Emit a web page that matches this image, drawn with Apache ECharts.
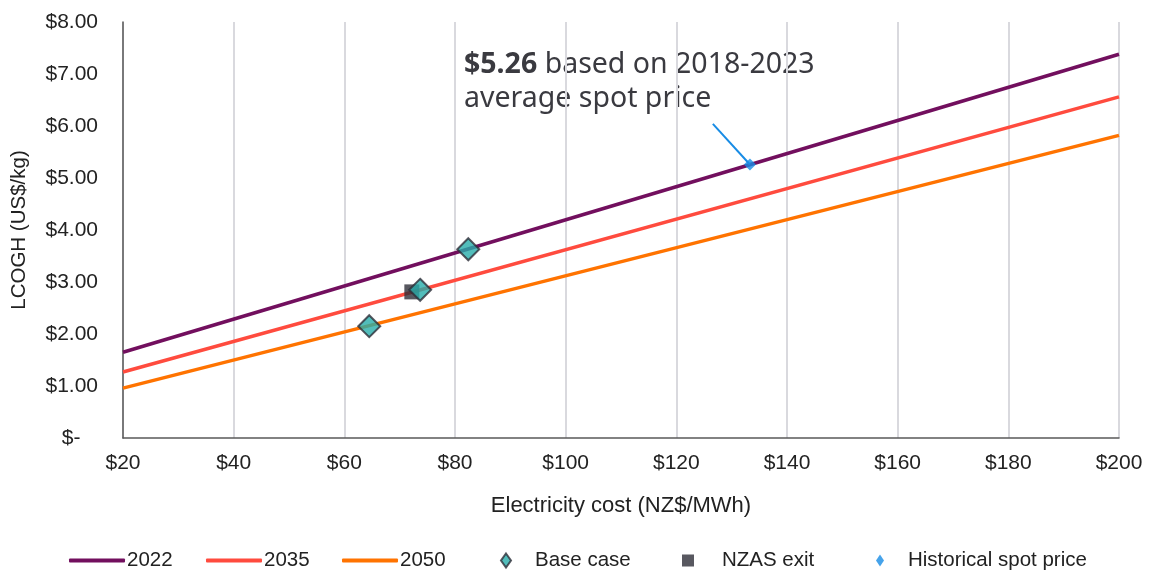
<!DOCTYPE html>
<html>
<head>
<meta charset="utf-8">
<script src="https://cdn.jsdelivr.net/npm/echarts@6/dist/echarts.min.js"></script>
<style>
  html, body { margin: 0; padding: 0; background: #fff; }
  #chart { width: 1151px; height: 573px; }
</style>
</head>
<body>
<div id="chart"></div>
<script>
// Levelised cost of green hydrogen vs. electricity cost
const xTicks = [20, 40, 60, 80, 100, 120, 140, 160, 180, 200];
const yTickLabels = ['$-', '$1.00', '$2.00', '$3.00', '$4.00', '$5.00', '$6.00', '$7.00', '$8.00'];

// Each scenario line: [electricity cost, LCOGH] at both ends of the range
const line2022 = [[20, 1.65], [200, 7.38]];
const line2035 = [[20, 1.27], [200, 6.56]];
const line2050 = [[20, 0.96], [200, 5.82]];

const baseCase = [[82.4, 3.63], [73.7, 2.85], [64.5, 2.15]];
const nzasExit = [[72.2, 2.81]];
const historicalSpot = [[133.3, 5.26]];
const calloutStart = [126.6, 6.04];

const FONT = 'Liberation Sans, Arial, sans-serif';
const chart = echarts.init(document.getElementById('chart'));

function lineSeries(name, data, color) {
  return {
    name, type: 'line', data, symbol: 'none', z: 2,
    lineStyle: { color, width: 3.5 },
    itemStyle: { color }
  };
}

const legendText = { fontFamily: FONT, fontSize: 20.5, color: '#222', padding: [0, 0, 0, -3] };
function legendItem(left, name, opts) {
  return Object.assign({ bottom: -3, left, data: [name], itemGap: 0, textStyle: legendText }, opts);
}

chart.setOption({
  animation: false,
  grid: { left: 123, right: 32, top: 22, bottom: 135, outerBoundsMode: 'none', containLabel: false },
  legend: [
    legendItem(64, '2022', { icon: 'roundRect', itemWidth: 56, itemHeight: 4 }),
    legendItem(201, '2035', { icon: 'roundRect', itemWidth: 56, itemHeight: 4 }),
    legendItem(337, '2050', { icon: 'roundRect', itemWidth: 56, itemHeight: 4 }),
    legendItem(495, 'Base case', { itemWidth: 10, itemHeight: 14,
      textStyle: Object.assign({}, legendText, { padding: [0, 0, 0, 19] }) }),
    legendItem(677, 'NZAS exit', { itemWidth: 12, itemHeight: 12,
      textStyle: Object.assign({}, legendText, { padding: [0, 0, 0, 23] }) }),
    legendItem(871, 'Historical spot price', { itemWidth: 8, itemHeight: 12,
      textStyle: Object.assign({}, legendText, { padding: [0, 0, 0, 19] }) })
  ],
  xAxis: {
    type: 'value', min: 20, max: 200, interval: 20,
    name: 'Electricity cost (NZ$/MWh)', nameLocation: 'middle', nameGap: 57,
    nameTextStyle: { fontFamily: FONT, fontSize: 22, color: '#222' },
    axisLine: { show: true, lineStyle: { color: '#595959', width: 1.5 } },
    axisTick: { show: false },
    axisLabel: { fontFamily: FONT, fontSize: 21, color: '#222', margin: 15,
      formatter: v => xTicks.includes(v) ? '$' + v : '' },
    splitLine: { show: true, lineStyle: { color: '#d9d9de', width: 2 } }
  },
  yAxis: {
    type: 'value', min: 0, max: 8, interval: 1,
    name: 'LCOGH (US$/kg)', nameLocation: 'middle', nameGap: 93,
    nameTextStyle: { fontFamily: FONT, fontSize: 20.5, color: '#222' },
    axisLine: { show: true, lineStyle: { color: '#595959', width: 1.5 } },
    axisTick: { show: false },
    axisLabel: { fontFamily: FONT, fontSize: 21, color: '#222', margin: 25,
      formatter: v => (yTickLabels[Math.round(v)] || '') + (v === 0 ? '   ' : '') },
    splitLine: { show: false }
  },
  series: [
    lineSeries('2022', line2022, '#720F5E'),
    lineSeries('2035', line2035, '#FF4B3E'),
    lineSeries('2050', line2050, '#FF7300'),
    {
      name: 'NZAS exit', type: 'scatter', data: nzasExit, symbol: 'rect', symbolSize: 15, z: 3,
      itemStyle: { color: '#2E2E38' }
    },
    {
      name: 'Base case', type: 'scatter', data: baseCase, symbol: 'diamond', symbolSize: [22, 22], z: 4,
      itemStyle: { color: '#27ACAA', borderColor: '#2E2E38', borderWidth: 2 }
    },
    {
      name: 'Historical spot price', type: 'scatter', data: historicalSpot, symbol: 'diamond', symbolSize: 12, z: 4,
      itemStyle: { color: '#188CE5' },
      markLine: {
        silent: true, symbol: 'none', label: { show: false },
        lineStyle: { color: '#188CE5', width: 2, type: 'solid' },
        data: [[{ coord: calloutStart }, { coord: historicalSpot[0] }]]
      }
    }
  ],
  graphic: [{
    type: 'text', left: 464, top: 48,
    style: {
      text: '{b|$5.26} based on 2018-2023\naverage spot price',
      fontFamily: 'Noto Sans, sans-serif', fontSize: 28.5, fill: '#3a3a40', lineHeight: 34,
      rich: { b: { fontWeight: 'bold', fontFamily: 'Noto Sans, sans-serif', fontSize: 28.5, fill: '#3a3a40', lineHeight: 34 } }
    }
  }]
});
</script>
</body>
</html>
